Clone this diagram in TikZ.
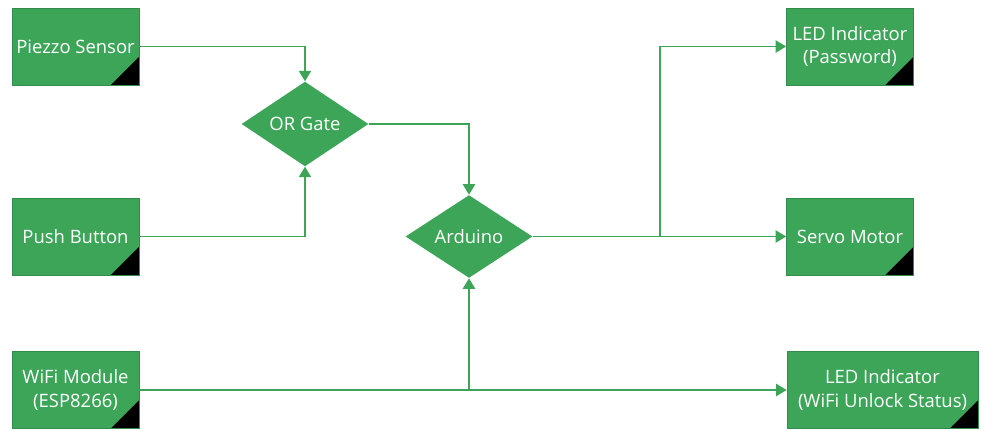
\documentclass[tikz,border=0pt]{standalone}
\usepackage{fontspec}
\setmainfont{Open Sans}
\usetikzlibrary{shapes.geometric,arrows.meta}
\definecolor{blockgreen}{RGB}{60,165,88}
\begin{document}
\begin{tikzpicture}[x=0.02cm,y=-0.02cm,
        block/.style={draw=blockgreen!85!black, fill=blockgreen, text=white,
            minimum width=2.54cm, minimum height=1.54cm, align=center, inner sep=2pt,
            font=\fontsize{10.5}{13.5}\selectfont,
            path picture={\fill[black] (path picture bounding box.south east)
                -- ++(-0.56cm,0) -- ++(0.56cm,0.56cm) -- cycle;}},
        decision/.style={diamond, fill=blockgreen, text=white,
            minimum width=2.54cm, minimum height=1.54cm, inner sep=0pt,
            font=\fontsize{10.5}{13.5}\selectfont},
        link/.style={draw=blockgreen, line width=0.8pt, -{Triangle[width=7pt,length=6pt]}}]
    \useasboundingbox (0,0) rectangle (981,430);
    % inputs
    \node[block] (piezo) at (75.5,46.5) {Piezzo Sensor};
    \node[block] (push) at (75.5,236.5) {Push Button};
    \node[block] (wifi) at (75.5,390) {WiFi Module\\(ESP8266)};
    % logic
    \node[decision] (orgate) at (305,124) {OR Gate};
    \node[decision] (arduino) at (469,236.5) {Arduino};
    % outputs
    \node[block] (ledpw) at (850,46.5) {LED Indicator\\(Password)};
    \node[block] (servo) at (850,236.5) {Servo Motor};
    \node[block, minimum width=3.82cm] (ledwifi) at (882.5,390) {LED Indicator\\(WiFi Unlock Status)};
    % connectors
    \coordinate (split) at (660,236.5);
    \coordinate (join) at (469,390);
    \draw[link] (piezo.east) -| (orgate.north);
    \draw[link] (push.east) -| (orgate.south);
    \draw[link] (orgate.east) -| (arduino.north);
    \draw[link] (arduino.east) -- (servo.west);
    \draw[link] (split) |- (ledpw.west);
    \draw[link] (wifi.east) -- (ledwifi.west);
    \draw[link] (join) -- (arduino.south);
\end{tikzpicture}
\end{document}
